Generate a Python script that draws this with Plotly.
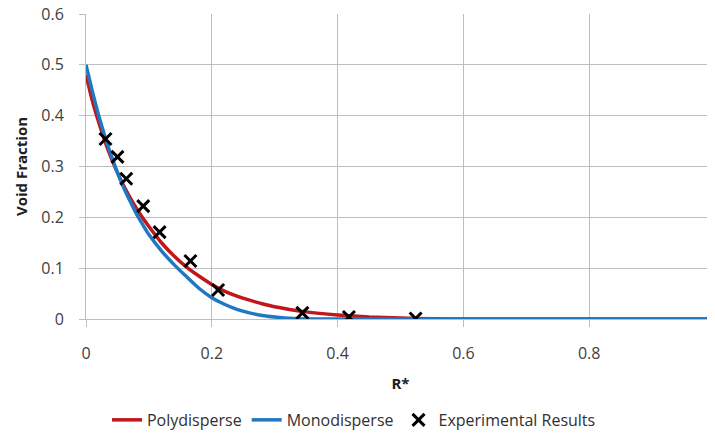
import plotly.graph_objects as go

# Data
poly_x = [0, 0.01, 0.02, 0.03, 0.04, 0.05, 0.06, 0.07, 0.08, 0.09, 0.10, 0.12, 0.14, 0.16, 0.18, 0.20,
          0.22, 0.24, 0.26, 0.28, 0.30, 0.35, 0.40, 0.45, 0.50, 0.55, 0.60, 0.80, 1.0]
poly_y = [0.48, 0.43, 0.388, 0.35, 0.317, 0.288, 0.262, 0.239, 0.218, 0.199, 0.182, 0.150, 0.124, 0.102, 0.084, 0.068,
          0.055, 0.045, 0.037, 0.030, 0.024, 0.014, 0.008, 0.004, 0.002, 0.0005, 0, 0, 0]

mono_x = [0, 0.01, 0.02, 0.03, 0.04, 0.05, 0.06, 0.07, 0.08, 0.09, 0.10, 0.12, 0.14, 0.16, 0.18, 0.20,
          0.22, 0.24, 0.26, 0.28, 0.30, 0.33, 0.36, 0.60, 0.80, 1.0]
mono_y = [0.50, 0.448, 0.401, 0.359, 0.322, 0.288, 0.258, 0.232, 0.207, 0.186, 0.166, 0.134, 0.107, 0.083, 0.060, 0.042,
          0.029, 0.019, 0.012, 0.007, 0.004, 0.001, 0, 0, 0, 0]

exp_x = [0.031, 0.050, 0.064, 0.091, 0.117, 0.166, 0.210, 0.344, 0.418, 0.524]
exp_y = [0.354, 0.319, 0.276, 0.222, 0.171, 0.114, 0.057, 0.012, 0.004, 0.001]

x_ticks = [0, 0.2, 0.4, 0.6, 0.8, 1.0]
x_tick_labels = ["0", "0.2", "0.4", "0.6", "0.8", "1"]
y_ticks = [0, 0.1, 0.2, 0.3, 0.4, 0.5, 0.6]
y_tick_labels = ["0", "0.1", "0.2", "0.3", "0.4", "0.5", "0.6"]

FONT = "Open Sans, Liberation Sans, sans-serif"
GRID = "#BEBEBE"
TXT = "#404040"

fig = go.Figure()
fig.add_trace(go.Scatter(x=poly_x, y=poly_y, mode="lines", name="Polydisperse",
                         line=dict(color="#C0161C", width=3.5, shape="spline", smoothing=0.5),
                         cliponaxis=False))
fig.add_trace(go.Scatter(x=mono_x, y=mono_y, mode="lines", name="Monodisperse",
                         line=dict(color="#1F78C0", width=3.5, shape="spline", smoothing=0.5),
                         cliponaxis=False))
fig.add_trace(go.Scatter(x=exp_x, y=exp_y, mode="markers", name="Experimental Results",
                         marker=dict(symbol="x-thin", size=12, color="black",
                                     line=dict(color="black", width=3))))

fig.update_layout(
    width=707, height=426,
    margin=dict(l=78, r=0, t=6, b=115),
    paper_bgcolor="white", plot_bgcolor="white",
    font=dict(family=FONT, size=15, color=TXT),
    showlegend=True,
    legend=dict(orientation="h", xref="container", yref="container",
                x=0.14, xanchor="left", y=0.033, yanchor="middle",
                font=dict(size=16, color="#303030"), tracegroupgap=0,
                bgcolor="rgba(0,0,0,0)"),
    xaxis=dict(range=[0, 1.0], tickvals=x_ticks, ticktext=x_tick_labels,
               automargin=False, ticklabeloverflow="allow",
               showgrid=True, gridcolor=GRID, gridwidth=1, zeroline=False,
               showline=True, linecolor=GRID, linewidth=1,
               ticks="outside", ticklen=7, tickcolor=GRID, ticklabelstandoff=13,
               tickfont=dict(size=16, color=TXT),
               title=dict(text="<b>R*</b>", font=dict(size=15, color="#202020"), standoff=15)),
    yaxis=dict(range=[0, 0.6], tickvals=y_ticks, ticktext=y_tick_labels,
               automargin=False, ticklabeloverflow="allow",
               showgrid=True, gridcolor=GRID, gridwidth=1, zeroline=False,
               showline=True, linecolor=GRID, linewidth=1,
               ticks="outside", ticklen=6, tickcolor=GRID, ticklabelstandoff=12,
               tickfont=dict(size=16, color=TXT),
               title=dict(text="<b>Void Fraction</b>", font=dict(size=15, color="#202020"), standoff=10)),
)

fig.write_html("out.html")
